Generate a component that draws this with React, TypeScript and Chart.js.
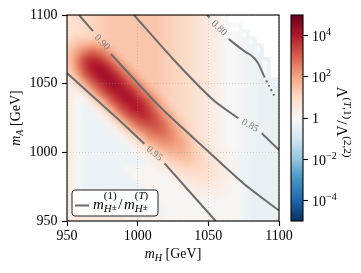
import React, { useEffect, useRef } from 'react';
import { Chart, registerables } from 'chart.js';

Chart.register(...registerables);

const SERIF = '"Liberation Serif", "Times New Roman", serif';

// ---------------- data ----------------
// bin edges of the heat map (GeV)
const mHEdges = [950, 955, 960, 965, 970, 975, 980, 985, 990, 995, 1000, 1005, 1010, 1015, 1020, 1025, 1030, 1035, 1040, 1045, 1050, 1055, 1060, 1065, 1070, 1075, 1080, 1085, 1090, 1095, 1100];
const mAEdges = [1100, 1095, 1090, 1085, 1080, 1075, 1070, 1065, 1060, 1055, 1050, 1045, 1040, 1035, 1030, 1025, 1020, 1015, 1010, 1005, 1000, 995, 990, 985, 980, 975, 970, 965, 960, 955, 950];

// log10 of Λ(T,1)/Λ(2,2); rows from top (mA = 1100) to bottom, columns mH = 950 → 1100; null = no data
const log10Ratio: (number | null)[][] = [
  [0.8, 0.9, 1.0, 1.1, 1.2, 1.3, 1.4, 1.4, 1.4, 1.4, 1.4, 1.4, 1.4, 1.3, 1.2, 1.1, 1.0, 0.9, 0.7, 0.6, 0.4, 0.3, 0.1, null, null, null, null, null, null, null],
  [0.8, 0.9, 1.0, 1.1, 1.2, 1.3, 1.4, 1.4, 1.4, 1.4, 1.4, 1.4, 1.4, 1.3, 1.2, 1.1, 1.0, 0.9, 0.7, 0.6, 0.4, 0.3, 0.1, 0.0, -0.1, null, null, null, null, null],
  [0.8, 0.9, 1.0, 1.1, 1.2, 1.3, 1.4, 1.4, 1.4, 1.4, 1.4, 1.4, 1.4, 1.3, 1.2, 1.1, 1.0, 0.9, 0.7, 0.6, 0.4, 0.3, 0.1, 0.0, -0.1, -0.2, null, null, null, null],
  [1.0, 1.2, 1.2, 1.3, 1.2, 1.3, 1.4, 1.4, 1.4, 1.4, 1.4, 1.4, 1.4, 1.3, 1.2, 1.1, 1.0, 0.9, 0.7, 0.6, 0.4, 0.3, 0.1, 0.0, -0.1, -0.2, -0.3, null, null, null],
  [1.3, 1.6, 1.9, 2.1, 2.0, 1.7, 1.4, 1.4, 1.4, 1.4, 1.4, 1.4, 1.4, 1.3, 1.2, 1.1, 1.0, 0.9, 0.7, 0.6, 0.4, 0.3, 0.1, 0.0, -0.1, -0.2, -0.3, -0.4, null, null],
  [1.5, 2.1, 2.7, 3.0, 2.8, 2.4, 1.9, 1.4, 1.4, 1.4, 1.4, 1.4, 1.4, 1.3, 1.2, 1.1, 1.0, 0.9, 0.7, 0.6, 0.4, 0.3, 0.1, 0.0, -0.1, -0.2, -0.3, -0.4, null, null],
  [1.6, 2.5, 3.3, 3.7, 3.6, 3.1, 2.5, 1.9, 1.4, 1.4, 1.4, 1.4, 1.4, 1.3, 1.2, 1.1, 1.0, 0.9, 0.7, 0.6, 0.4, 0.3, 0.1, 0.0, -0.1, -0.2, -0.3, -0.4, -0.4, null],
  [1.5, 2.5, 3.4, 4.0, 4.1, 3.8, 3.2, 2.5, 1.9, 1.4, 1.4, 1.4, 1.4, 1.3, 1.2, 1.1, 1.0, 0.9, 0.7, 0.6, 0.4, 0.3, 0.1, 0.0, -0.1, -0.2, -0.3, -0.4, -0.4, null],
  [1.2, 2.1, 3.1, 3.7, 4.2, 4.2, 3.8, 3.2, 2.5, 1.9, 1.4, 1.4, 1.4, 1.3, 1.2, 1.1, 1.0, 0.9, 0.7, 0.6, 0.4, 0.3, 0.1, 0.0, -0.1, -0.2, -0.3, -0.4, -0.4, null],
  [0.6, 1.4, 2.3, 3.2, 3.8, 4.2, 4.2, 3.8, 3.1, 2.5, 1.9, 1.4, 1.4, 1.3, 1.2, 1.1, 1.0, 0.9, 0.7, 0.6, 0.4, 0.3, 0.1, 0.0, -0.1, -0.2, -0.3, -0.4, -0.4, -0.4],
  [0.4, 0.7, 1.5, 2.4, 3.2, 3.8, 4.2, 4.1, 3.7, 3.1, 2.5, 1.8, 1.4, 1.3, 1.2, 1.1, 1.0, 0.9, 0.7, 0.6, 0.4, 0.3, 0.1, 0.0, -0.1, -0.2, -0.3, -0.4, -0.4, -0.4],
  [0.4, 0.2, 0.7, 1.5, 2.4, 3.2, 3.7, 4.1, 4.1, 3.7, 3.0, 2.4, 1.8, 1.3, 1.2, 1.1, 1.0, 0.9, 0.7, 0.6, 0.4, 0.3, 0.1, 0.0, -0.1, -0.2, -0.3, -0.4, -0.4, -0.4],
  [0.4, 0.0, 0.2, 0.7, 1.5, 2.3, 3.2, 3.7, 4.1, 4.0, 3.6, 3.0, 2.3, 1.7, 1.2, 1.1, 1.0, 0.9, 0.7, 0.6, 0.4, 0.3, 0.1, 0.0, -0.1, -0.2, -0.3, -0.4, -0.4, -0.4],
  [0.4, 0.0, -0.3, 0.2, 0.7, 1.5, 2.3, 3.2, 3.6, 4.0, 3.9, 3.4, 2.7, 2.0, 1.5, 1.1, 1.0, 0.9, 0.7, 0.6, 0.4, 0.3, 0.1, 0.0, -0.1, -0.2, -0.3, -0.4, -0.4, -0.4],
  [0.4, 0.0, -0.3, -0.3, 0.2, 0.7, 1.5, 2.3, 3.1, 3.5, 3.8, 3.6, 3.1, 2.4, 1.9, 1.3, 1.0, 0.9, 0.7, 0.6, 0.4, 0.3, 0.1, 0.0, -0.1, -0.2, -0.3, -0.4, -0.4, -0.4],
  [0.4, 0.0, -0.3, -0.3, -0.3, 0.2, 0.7, 1.4, 2.2, 2.9, 3.3, 3.4, 3.2, 2.8, 2.2, 1.6, 1.2, 0.9, 0.7, 0.6, 0.4, 0.3, 0.1, 0.0, -0.1, -0.2, -0.3, -0.4, -0.4, -0.4],
  [0.4, 0.0, -0.3, -0.3, -0.3, -0.3, 0.2, 0.7, 1.4, 2.1, 2.6, 2.9, 3.1, 2.9, 2.4, 1.9, 1.4, 1.0, 0.7, 0.6, 0.4, 0.3, 0.1, 0.0, -0.1, -0.2, -0.3, -0.4, -0.4, -0.4],
  [0.4, 0.0, -0.3, -0.3, -0.3, -0.3, -0.3, 0.2, 0.6, 1.2, 1.8, 2.4, 2.6, 2.7, 2.5, 2.1, 1.6, 1.2, 0.8, 0.6, 0.4, 0.3, 0.1, 0.0, -0.1, -0.2, -0.3, -0.4, -0.4, -0.4],
  [0.4, 0.0, -0.3, -0.3, -0.3, -0.3, -0.3, -0.3, 0.2, 0.5, 1.1, 1.7, 2.1, 2.3, 2.3, 2.1, 1.8, 1.4, 1.0, 0.7, 0.4, 0.3, 0.1, 0.0, -0.1, -0.2, -0.3, -0.4, -0.4, -0.4],
  [0.4, 0.0, -0.3, -0.3, -0.3, -0.3, -0.3, -0.3, -0.3, 0.2, 0.5, 1.0, 1.4, 1.8, 1.9, 1.9, 1.8, 1.4, 1.1, 0.8, 0.5, 0.3, 0.2, 0.0, -0.1, -0.2, -0.3, -0.4, -0.4, -0.4],
  [0.4, 0.0, -0.3, -0.3, -0.3, -0.3, -0.3, -0.3, -0.3, -0.3, 0.1, 0.4, 0.8, 1.2, 1.5, 1.6, 1.6, 1.4, 1.2, 0.9, 0.6, 0.4, 0.3, 0.2, -0.2, -0.3, -0.4, -0.4, -0.4, -0.4],
  [0.4, 0.0, -0.3, -0.3, -0.3, -0.3, -0.3, -0.3, -0.3, -0.3, -0.3, 0.1, 0.4, 0.7, 1.0, 1.2, 1.3, 1.3, 1.1, 0.9, 0.7, 0.5, 0.3, 0.2, -0.2, -0.3, -0.4, -0.4, -0.4, -0.4],
  [0.4, 0.0, -0.3, -0.3, -0.3, -0.3, -0.3, -0.3, 0.1, 0.1, 0.1, 0.1, 0.1, 0.3, 0.6, 0.8, 1.0, 1.0, 1.0, 0.9, 0.7, 0.5, 0.4, 0.2, -0.2, -0.3, -0.4, -0.4, -0.4, -0.4],
  [0.4, 0.0, -0.3, -0.3, -0.3, -0.3, -0.3, -0.3, -0.3, 0.1, 0.1, 0.1, 0.1, 0.1, 0.2, 0.5, 0.7, 0.8, 0.8, 0.8, 0.7, 0.5, 0.4, 0.2, -0.2, -0.3, -0.4, -0.4, -0.4, -0.4],
  [0.4, 0.0, -0.3, -0.3, -0.3, -0.3, -0.3, -0.3, -0.3, -0.3, 0.1, 0.1, 0.1, 0.1, 0.1, 0.2, 0.4, 0.5, 0.6, 0.6, 0.5, 0.4, 0.3, 0.1, -0.1, -0.3, -0.4, -0.4, -0.4, -0.4],
  [0.4, 0.0, -0.3, -0.3, -0.3, -0.3, -0.3, -0.3, -0.3, -0.3, -0.3, 0.1, 0.1, 0.1, 0.1, 0.1, 0.2, 0.3, 0.4, 0.4, 0.4, 0.3, 0.2, 0.1, 0.0, -0.3, -0.4, -0.4, -0.4, -0.4],
  [0.4, 0.0, -0.3, -0.3, -0.3, -0.3, -0.3, -0.3, -0.3, -0.3, -0.3, -0.3, 0.1, 0.1, 0.1, 0.1, 0.1, 0.1, 0.2, 0.2, 0.2, 0.2, 0.1, 0.1, -0.1, -0.3, -0.4, -0.4, -0.4, -0.4],
  [0.4, 0.0, -0.3, 0.1, 0.1, 0.1, -0.3, -0.3, -0.3, -0.3, -0.3, -0.3, -0.3, 0.1, 0.1, 0.1, 0.1, 0.1, 0.1, 0.1, 0.1, 0.1, 0.1, 0.1, -0.1, -0.3, -0.4, -0.4, -0.4, -0.4],
  [0.4, 0.2, 0.3, 0.3, 0.3, 0.3, 0.3, -0.3, -0.3, -0.3, -0.3, -0.3, -0.3, -0.3, 0.1, 0.1, 0.1, 0.1, 0.1, 0.1, 0.1, 0.1, 0.1, 0.1, -0.1, -0.3, -0.4, -0.4, -0.4, -0.4],
  [0.4, 0.5, 0.5, 0.5, 0.5, 0.5, 0.5, 0.5, 0.3, 0.3, 0.3, 0.3, 0.3, 0.3, 0.1, 0.1, 0.1, 0.1, 0.1, 0.1, 0.1, 0.1, 0.1, 0.1, -0.1, -0.3, -0.4, -0.4, -0.4, -0.4],
];

// contour lines of m_H±(1)/m_H±(T); null marks the gap where the level label sits
const contourLevels = ['0.80', '0.85', '0.90', '0.95'];
const c080MH = [1049.1, 1050.8, null, 1064.4, 1075.0, 1080.9, 1085.1, 1089.4];
const c080MA = [1100, 1098.2, null, 1082.5, 1074.0, 1070.1, 1065.0, 1055.6];
const c080TailMH = [1089.4, 1093.0, 1096.8];
const c080TailMA = [1055.6, 1048.3, 1041.0];
const c085MH = [997.4, 1025.0, 1053.5, 1071.2, null, 1087.8, 1100];
const c085MA = [1100, 1068.0, 1038.1, 1024.8, null, 1013.9, 1001.7];
const c090MH = [958.5, 968.4, null, 981.1, 1015.8, 1048.8, 1074.7, 1100];
const c090MA = [1100, 1088.3, null, 1071.6, 1033.2, 1001.7, 977.5, 957.6];
const c095MH = [950, 984.7, 1004.7, null, 1019.0, 1055.2];
const c095MA = [1057.7, 1025.5, 1006.3, null, 991.9, 950];

// axes
const axisMin = 950;
const axisMax = 1100;
const axisStep = 50;

// colour bar (log scale)
const colorMin = 1e-5;
const colorMax = 1e5;
const cbTickValues = [1e-4, 1e-2, 1, 1e2, 1e4];
const cbTickBase = ['10', '10', '1', '10', '10'];
const cbTickExp = ['\u22124', '\u22122', '', '2', '4'];

// ---------------- helpers ----------------
const RDBU_R = ['#053061', '#2166ac', '#4393c3', '#92c5de', '#d1e5f0', '#f7f7f7', '#fddbc7', '#f4a582', '#d6604d', '#b2182b', '#67001f'];
const hex = (h: string) => [parseInt(h.slice(1, 3), 16), parseInt(h.slice(3, 5), 16), parseInt(h.slice(5, 7), 16)];
const RDBU_RGB = RDBU_R.map(hex);
function cmapRGB(t: number) {
  const c = Math.max(0, Math.min(1, t)) * (RDBU_RGB.length - 1);
  const k = Math.min(RDBU_RGB.length - 2, Math.floor(c));
  const f = c - k;
  const a = RDBU_RGB[k], b = RDBU_RGB[k + 1];
  return [0, 1, 2].map((n) => Math.round(a[n] + (b[n] - a[n]) * f));
}

const toPoints = (xs: (number | null)[], ys: (number | null)[]) =>
  xs.map((x, k) => (x === null ? { x: null as any, y: null as any } : { x, y: ys[k] as number }));

type Run = { t: string; f: string; dy?: number; pad?: number };
type Stack = { sup: Run[]; sub: Run[]; supDy: number; subDy: number };
type Item = Run | Stack;

function runsWidth(ctx: CanvasRenderingContext2D, runs: Run[]) {
  let w = 0;
  for (const r of runs) { ctx.font = r.f; w += ctx.measureText(r.t).width + 2 * (r.pad || 0); }
  return w;
}
function itemWidth(ctx: CanvasRenderingContext2D, it: Item) {
  return 'sup' in it ? Math.max(runsWidth(ctx, it.sup), runsWidth(ctx, it.sub)) : runsWidth(ctx, [it]);
}
function itemsWidth(ctx: CanvasRenderingContext2D, items: Item[]) {
  return items.reduce((s, it) => s + itemWidth(ctx, it), 0);
}
function drawRuns(ctx: CanvasRenderingContext2D, runs: Run[], x: number, y: number) {
  let cx = x;
  for (const r of runs) {
    ctx.font = r.f;
    cx += r.pad || 0;
    ctx.fillText(r.t, cx, y + (r.dy || 0));
    cx += ctx.measureText(r.t).width + (r.pad || 0);
  }
  return cx;
}
function drawItems(ctx: CanvasRenderingContext2D, items: Item[], x: number, y: number) {
  let cx = x;
  ctx.textAlign = 'left';
  ctx.textBaseline = 'alphabetic';
  for (const it of items) {
    if ('sup' in it) {
      drawRuns(ctx, it.sup, cx, y + it.supDy);
      drawRuns(ctx, it.sub, cx, y + it.subDy);
      cx += itemWidth(ctx, it);
    } else {
      cx = drawRuns(ctx, [it], cx, y);
    }
  }
}

const F = (size: number, italic = false) => `${italic ? 'italic ' : ''}${size}px ${SERIF}`;
const LINE_COLOR = 'rgb(108,108,108)';

// ---------------- plugins ----------------
const heatmapPlugin = {
  id: 'heatmap',
  beforeDraw(chart: any) {
    const { ctx, scales } = chart;
    const xs = scales.x, ys = scales.y;
    const nRows = log10Ratio.length, nCols = log10Ratio[0].length;
    const off = document.createElement('canvas');
    off.width = nCols;
    off.height = nRows;
    const octx = off.getContext('2d')!;
    const img = octx.createImageData(nCols, nRows);
    const lmin = Math.log10(colorMin), lmax = Math.log10(colorMax);
    for (let i = 0; i < nRows; i++) {
      for (let j = 0; j < nCols; j++) {
        const v = log10Ratio[i][j];
        const p = (i * nCols + j) * 4;
        if (v === null) { img.data[p + 3] = 0; continue; }
        const [r, g, b] = cmapRGB((v - lmin) / (lmax - lmin));
        img.data[p] = r; img.data[p + 1] = g; img.data[p + 2] = b; img.data[p + 3] = 255;
      }
    }
    octx.putImageData(img, 0, 0);
    const x0 = xs.getPixelForValue(mHEdges[0]);
    const x1 = xs.getPixelForValue(mHEdges[mHEdges.length - 1]);
    const y0 = ys.getPixelForValue(mAEdges[0]);
    const y1 = ys.getPixelForValue(mAEdges[mAEdges.length - 1]);
    ctx.save();
    ctx.beginPath();
    ctx.rect(x0, y0, x1 - x0, y1 - y0);
    ctx.clip();
    ctx.imageSmoothingEnabled = true;
    ctx.imageSmoothingQuality = 'high';
    ctx.drawImage(off, x0, y0, x1 - x0, y1 - y0);
    // cells without data stay blank
    ctx.fillStyle = '#fff';
    for (let i = 0; i < nRows; i++) {
      for (let j = 0; j < nCols; j++) {
        if (log10Ratio[i][j] !== null) continue;
        const cx0 = xs.getPixelForValue(mHEdges[j]);
        const cx1 = xs.getPixelForValue(mHEdges[j + 1]);
        const cy0 = ys.getPixelForValue(mAEdges[i]);
        const cy1 = ys.getPixelForValue(mAEdges[i + 1]);
        ctx.fillRect(Math.floor(cx0), Math.floor(cy0), Math.ceil(cx1) - Math.floor(cx0) + 1, Math.ceil(cy1) - Math.floor(cy0));
      }
    }
    ctx.restore();
  },
};

const contourLabelPlugin = {
  id: 'contourLabels',
  afterDatasetsDraw(chart: any) {
    const { ctx, scales } = chart;
    const lines = [[c080MH, c080MA], [c085MH, c085MA], [c090MH, c090MA], [c095MH, c095MA]];
    ctx.save();
    lines.forEach(([mh, ma], k) => {
      const g = mh.indexOf(null);
      if (g < 1) return;
      const ax = scales.x.getPixelForValue(mh[g - 1]), ay = scales.y.getPixelForValue(ma[g - 1]);
      const bx = scales.x.getPixelForValue(mh[g + 1]), by = scales.y.getPixelForValue(ma[g + 1]);
      ctx.translate((ax + bx) / 2, (ay + by) / 2);
      ctx.rotate(Math.atan2(by - ay, bx - ax) * 0.88);
      ctx.font = F(10);
      ctx.fillStyle = 'rgb(125,125,125)';
      ctx.textAlign = 'center';
      ctx.textBaseline = 'middle';
      ctx.fillText(contourLevels[k], 0, 0);
      ctx.setTransform(1, 0, 0, 1, 0, 0);
    });
    ctx.restore();
  },
};

const decorPlugin = {
  id: 'decor',
  afterDraw(chart: any) {
    const { ctx, chartArea: a } = chart;
    ctx.save();
    // frame
    ctx.strokeStyle = '#000';
    ctx.lineWidth = 1.1;
    ctx.strokeRect(a.left, a.top, a.right - a.left, a.bottom - a.top);
    ctx.fillStyle = '#000';
    // x label
    const xl: Item[] = [{ t: 'm', f: F(14, true) }, { t: 'H', f: F(10, true), dy: 3 }, { t: ' [GeV]', f: F(14) }];
    const xw = itemsWidth(ctx, xl);
    drawItems(ctx, xl, (a.left + a.right) / 2 - xw / 2, 258);
    // y label
    const yl: Item[] = [{ t: 'm', f: F(14, true) }, { t: 'A', f: F(10, true), dy: 3 }, { t: ' [GeV]', f: F(14) }];
    const yw = itemsWidth(ctx, yl);
    ctx.save();
    ctx.translate(20, (a.top + a.bottom) / 2);
    ctx.rotate(-Math.PI / 2);
    drawItems(ctx, yl, -yw / 2, 0);
    ctx.restore();
    // legend
    const lx = 72, ly = 190, lw = 86, lh = 26;
    ctx.beginPath();
    ctx.roundRect(lx, ly, lw, lh, 3);
    ctx.fillStyle = 'rgba(255,255,255,0.85)';
    ctx.fill();
    ctx.strokeStyle = '#222';
    ctx.lineWidth = 1;
    ctx.stroke();
    const ds = chart.data.datasets[2];
    ctx.strokeStyle = ds.borderColor;
    ctx.lineWidth = ds.borderWidth;
    ctx.beginPath();
    ctx.moveTo(75, 205.5);
    ctx.lineTo(89, 205.5);
    ctx.stroke();
    ctx.fillStyle = '#000';
    const scriptH: Run[] = [{ t: 'H', f: F(11, true) }, { t: '\u00b1', f: F(9), dy: -2 }];
    const lg: Item[] = [
      { t: 'm', f: F(15, true) },
      { sup: [{ t: '(1)', f: F(11) }], sub: scriptH, supDy: -9.5, subDy: 3.5 },
      { t: '/', f: F(15), pad: 1.5 },
      { t: 'm', f: F(15, true) },
      { sup: [{ t: '(', f: F(11) }, { t: 'T', f: F(11, true) }, { t: ')', f: F(11) }], sub: scriptH, supDy: -9.5, subDy: 3.5 },
    ];
    drawItems(ctx, lg, 93, 208.5);
    ctx.restore();
  },
};

const colorbarPlugin = {
  id: 'colorbar',
  beforeDraw(chart: any) {
    const { ctx, chartArea: a, scales } = chart;
    const yTop = scales.y.getPixelForValue(colorMax);
    const yBot = scales.y.getPixelForValue(colorMin);
    const g = ctx.createLinearGradient(0, yBot, 0, yTop);
    RDBU_R.forEach((c, k) => g.addColorStop(k / (RDBU_R.length - 1), c));
    ctx.save();
    ctx.fillStyle = g;
    ctx.fillRect(a.left, yTop, a.right - a.left, yBot - yTop);
    ctx.restore();
  },
  afterDraw(chart: any) {
    const { ctx, chartArea: a, scales } = chart;
    ctx.save();
    ctx.strokeStyle = '#000';
    ctx.lineWidth = 1.1;
    ctx.strokeRect(a.left, a.top, a.right - a.left, a.bottom - a.top);
    ctx.fillStyle = '#000';
    cbTickValues.forEach((v, k) => {
      const py = scales.y.getPixelForValue(v);
      const items: Item[] = [{ t: cbTickBase[k], f: F(14) }];
      if (cbTickExp[k]) items.push({ t: cbTickExp[k], f: F(10), dy: -6 });
      drawItems(ctx, items, a.right + 9, py + (cbTickExp[k] ? 5.5 : 4.6));
    });
    // colour bar label
    const lab: Item[] = [
      { t: '\u039b', f: F(15) },
      { sup: [{ t: '(', f: F(11) }, { t: 'T', f: F(11, true) }, { t: ',1)', f: F(11) }], sub: [], supDy: -6.5, subDy: 0 },
      { t: '/', f: F(15), pad: 1 },
      { t: '\u039b', f: F(15) },
      { sup: [{ t: '(2,2)', f: F(11) }], sub: [], supDy: -6.5, subDy: 0 },
    ];
    const w = itemsWidth(ctx, lab);
    ctx.translate(337, (a.top + a.bottom) / 2 + 4);
    ctx.rotate(Math.PI / 2);
    drawItems(ctx, lab, -w / 2, 0);
    ctx.restore();
  },
};

// ---------------- component ----------------
export default function App() {
  const mainRef = useRef<HTMLCanvasElement>(null);
  const cbRef = useRef<HTMLCanvasElement>(null);

  useEffect(() => {
    const lineStyle = {
      borderColor: LINE_COLOR,
      borderWidth: 2,
      pointRadius: 0,
      tension: 0.25,
      spanGaps: false,
      fill: false,
    };
    const tickFont = { family: SERIF, size: 14 };
    const axis = (which: 'x' | 'y') => ({
      type: 'linear' as const,
      min: axisMin,
      max: axisMax,
      ticks: {
        stepSize: axisStep,
        font: tickFont,
        color: '#000',
        padding: which === 'x' ? 2 : 4.5,
        maxRotation: 0,
        callback: (v: number) => String(v),
      },
      grid: { color: 'rgba(150,150,150,0.45)', lineWidth: 0.8, tickLength: 5, tickColor: '#000', tickWidth: 1.1 },
      border: { display: false, dash: [1, 2] },
      afterFit: (s: any) => {
        if (which === 'x') s.height = 52;
        else s.width = 67;
      },
    });

    const main = new Chart(mainRef.current!, {
      type: 'line',
      data: {
        datasets: [
          { label: contourLevels[0], data: toPoints(c080MH, c080MA), ...lineStyle },
          { label: contourLevels[0] + ' tail', data: toPoints(c080TailMH, c080TailMA), ...lineStyle, borderDash: [2, 3] },
          { label: contourLevels[1], data: toPoints(c085MH, c085MA), ...lineStyle },
          { label: contourLevels[2], data: toPoints(c090MH, c090MA), ...lineStyle },
          { label: contourLevels[3], data: toPoints(c095MH, c095MA), ...lineStyle },
        ] as any,
      },
      options: {
        responsive: false,
        animation: false,
        devicePixelRatio: 1,
        layout: { padding: { left: 0, top: 15, right: 82, bottom: 0 } },
        plugins: { legend: { display: false }, tooltip: { enabled: false } },
        scales: { x: axis('x'), y: axis('y') } as any,
      },
      plugins: [heatmapPlugin, contourLabelPlugin, decorPlugin],
    });

    const cb = new Chart(cbRef.current!, {
      type: 'line',
      data: { datasets: [] },
      options: {
        responsive: false,
        animation: false,
        devicePixelRatio: 1,
        layout: { padding: { left: 291, top: 15, right: 18, bottom: 52 } },
        plugins: { legend: { display: false }, tooltip: { enabled: false } },
        scales: {
          x: { type: 'linear', display: false, min: 0, max: 1 },
          y: {
            type: 'logarithmic',
            position: 'right',
            min: colorMin,
            max: colorMax,
            afterBuildTicks: (s: any) => { s.ticks = cbTickValues.map((value) => ({ value })); },
            ticks: { display: false },
            grid: { drawOnChartArea: false, drawTicks: true, tickLength: 5, tickColor: '#000', tickWidth: 1.1, color: '#000' },
            border: { display: false },
            afterFit: (s: any) => { s.width = 40; },
          },
        } as any,
      },
      plugins: [colorbarPlugin],
    });

    return () => {
      main.destroy();
      cb.destroy();
    };
  }, []);

  return (
    <div style={{ position: 'fixed', left: 0, top: 0, width: 361, height: 273, background: '#fff' }}>
      <canvas ref={mainRef} width={361} height={273} style={{ position: 'absolute', left: 0, top: 0 }} />
      <canvas ref={cbRef} width={361} height={273} style={{ position: 'absolute', left: 0, top: 0 }} />
    </div>
  );
}
